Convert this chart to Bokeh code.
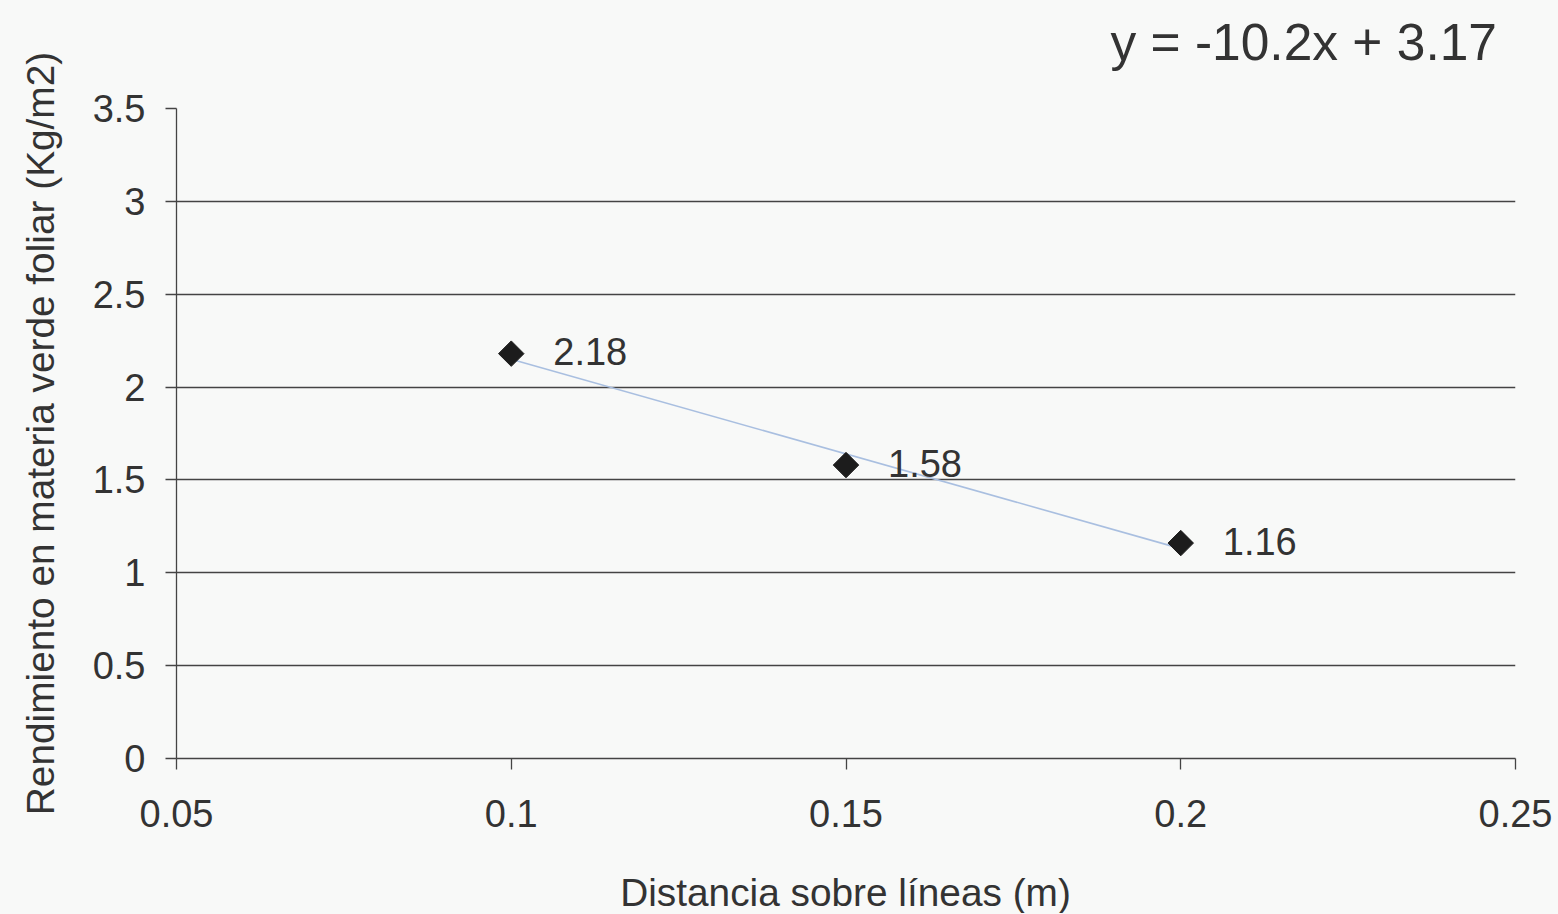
import numpy as np
from bokeh.plotting import figure
from bokeh.layouts import column
from bokeh.models import Range1d, FixedTicker, ColumnDataSource, LabelSet, Div
from bokeh.core.properties import value
from bokeh.embed import file_html
from bokeh.resources import INLINE

# Data
distancia = [0.10, 0.15, 0.20]
rendimiento = [2.18, 1.58, 1.16]
etiquetas = ["2.18", "1.58", "1.16"]
x_ticks = [0.05, 0.10, 0.15, 0.20, 0.25]
x_tick_labels = {0.05: "0.05", 0.1: "0.1", 0.15: "0.15", 0.2: "0.2", 0.25: "0.25"}
y_ticks = [0, 0.5, 1, 1.5, 2, 2.5, 3, 3.5]
y_tick_labels = {0: "0", 0.5: "0.5", 1: "1", 1.5: "1.5", 2: "2", 2.5: "2.5", 3: "3", 3.5: "3.5"}
x_title = "Distancia sobre líneas (m)"
y_title = "Rendimiento en materia verde foliar (Kg/m2)"

slope, intercept = np.polyfit(distancia, rendimiento, 1)
eq_text = f"y = {slope:.1f}x + {intercept:.2f}"

FONT = "Liberation Sans"
BG = "#f8f9f8"
INK = "#333333"

p = figure(width=1558, height=850, output_backend="svg", toolbar_location=None,
           x_range=Range1d(0.05, 0.25), y_range=Range1d(0, 3.5),
           min_border_left=176, min_border_right=43, min_border_top=108, min_border_bottom=92,
           background_fill_color=BG, border_fill_color=BG, margin=0)
p.outline_line_color = None
p.xgrid.grid_line_color = None
p.ygrid.grid_line_color = "#444444"
p.ygrid.grid_line_width = 1.3
p.ygrid.ticker = FixedTicker(ticks=y_ticks)

for ax in (p.xaxis[0], p.yaxis[0]):
    ax.axis_line_color = "#444444"
    ax.axis_line_width = 1.3
    ax.major_tick_line_color = "#444444"
    ax.major_tick_line_width = 1.3
    ax.major_tick_out = 11
    ax.major_tick_in = 0
    ax.minor_tick_line_color = None
    ax.major_label_text_font = FONT
    ax.major_label_text_font_size = "38px"
    ax.major_label_text_color = INK
    ax.axis_label_text_font = FONT
    ax.axis_label_text_font_size = "38.8px"
    ax.axis_label_text_font_style = "normal"
    ax.axis_label_text_color = INK

p.xaxis.ticker = FixedTicker(ticks=x_ticks)
p.xaxis.major_label_overrides = x_tick_labels
p.xaxis.major_label_standoff = 30

p.yaxis.ticker = FixedTicker(ticks=y_ticks)
p.yaxis.major_label_overrides = y_tick_labels
p.yaxis.major_label_standoff = 20
p.yaxis.axis_label = y_title
p.yaxis.axis_label_standoff = 28

# Trend line
tx = np.array([min(distancia), max(distancia)])
p.line(tx, slope * tx + intercept, line_color="#a9bfe0", line_width=1.6)

# Points
src = ColumnDataSource(dict(x=distancia, y=rendimiento, t=etiquetas))
p.scatter("x", "y", source=src, marker="square", angle=np.pi / 4, size=18,
          fill_color="#1c1c1c", line_color="#1c1c1c")
p.add_layout(LabelSet(x="x", y="y", text="t", source=src, x_offset=42, y_offset=2,
                      text_font=value(FONT), text_font_size="38px", text_color=INK,
                      text_baseline="middle", text_align="left"))

# X axis title below the chart
xlab = Div(text=x_title, width=1339, height=63, margin=(0, 43, 0, 176),
           styles={"font-family": FONT, "font-size": "38.8px", "color": INK,
                   "text-align": "center", "line-height": "86px", "overflow": "hidden",
                   "white-space": "nowrap", "width": "1339px"})

# Trendline equation, shown at the top right over the chart's top border
eq = Div(text=eq_text, width=1497, height=1, margin=(0, 61, 0, 0),
         styles={"font-family": FONT, "font-size": "51.5px", "color": INK,
                 "text-align": "right", "line-height": "84px",
                 "white-space": "nowrap", "width": "1497px",
                 "transform": "translateY(-913px)"})

page = column(p, xlab, eq, spacing=0, margin=0, styles={"background-color": BG})

open("out.html", "w").write(file_html(page, INLINE))
